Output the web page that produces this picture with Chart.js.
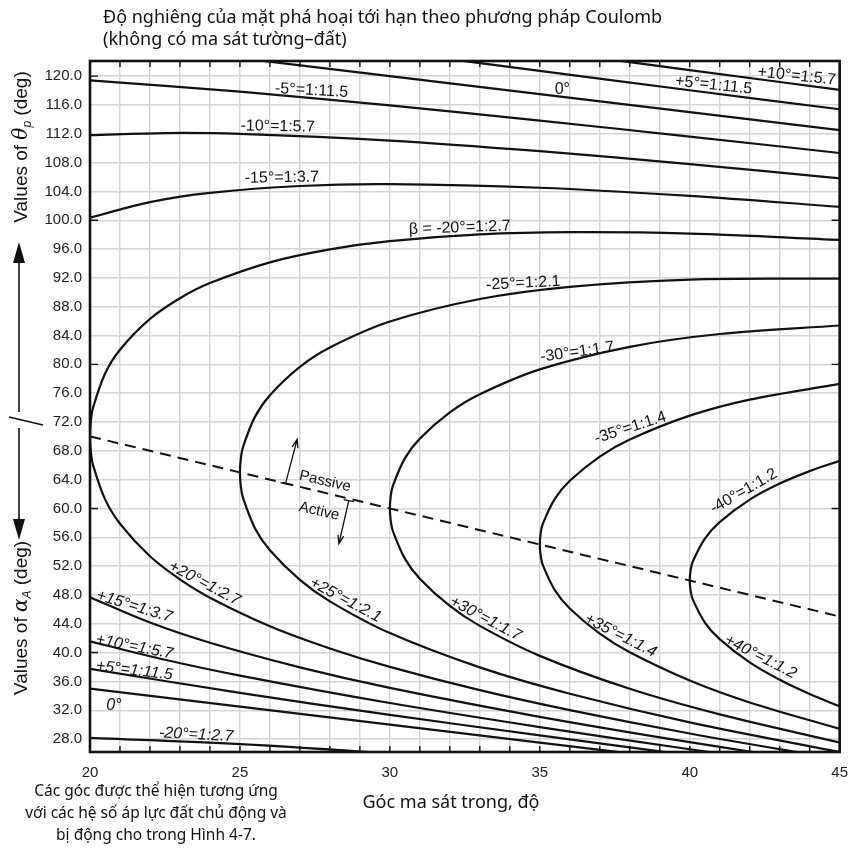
<!DOCTYPE html>
<html>
<head>
<meta charset="utf-8">
<script src="https://cdn.jsdelivr.net/npm/chart.js@4.4.0/dist/chart.umd.min.js"></script>
<style>
  html, body { margin: 0; padding: 0; background: #fff; }
</style>
</head>
<body>
<canvas id="coulombChart" width="860" height="848"></canvas>
<script>
// friction angle phi (deg) and failure-plane angles
// closed curves: upper branch = theta_p for beta = -k, lower branch = alpha_A for beta = +k
const phi20 = [20, 20.03, 20.1, 20.5, 21, 22, 23, 24, 26, 28, 30, 33, 36, 40, 45];
const thetaM20 = [70, 72.17, 73.95, 78.69, 82.03, 86.31, 89.18, 91.28, 94.16, 95.96, 97.10, 98.03, 98.34, 98.15, 97.28];
const alphaP20 = [70, 67.83, 66.05, 61.29, 57.88, 53.36, 50.15, 47.61, 43.65, 40.57, 38.01, 34.78, 32.01, 28.77, 25.17];

const phi25 = [25, 25.03, 25.1, 25.5, 26, 27, 28, 30, 33, 36, 40, 45];
const thetaM25 = [65, 66.92, 68.49, 72.71, 75.72, 79.65, 82.34, 85.94, 89.07, 90.76, 91.77, 91.90];
const alphaP25 = [65, 63.08, 61.51, 57.27, 54.21, 50.09, 47.11, 42.70, 37.94, 34.29, 30.32, 26.19];

const phi30 = [30, 30.03, 30.1, 30.5, 31, 32, 33, 35, 38, 41, 45];
const thetaM30 = [60, 61.73, 63.14, 66.95, 69.69, 73.32, 75.84, 79.30, 82.43, 84.21, 85.39];
const alphaP30 = [60, 58.28, 56.86, 53.04, 50.25, 46.47, 43.70, 39.54, 34.97, 31.42, 27.52];

const phi35 = [35, 35.03, 35.1, 35.5, 36, 37, 38, 40, 42, 45];
const thetaM35 = [55, 56.57, 57.86, 61.32, 63.84, 67.20, 69.57, 72.88, 75.11, 77.28];
const alphaP35 = [55, 53.43, 52.15, 48.66, 46.11, 42.62, 40.04, 36.12, 33.08, 29.41];

const phi40 = [40, 40.03, 40.1, 40.5, 41, 42, 43, 44, 45];
const thetaM40 = [50, 51.43, 52.61, 55.79, 58.10, 61.22, 63.45, 65.18, 66.60];
const alphaP40 = [50, 48.57, 47.39, 44.20, 41.86, 38.63, 36.22, 34.25, 32.54];

// open curves
const phi15 = [20, 22, 24, 27, 30, 35, 40, 45];
const thetaM15 = [100.35, 102.51, 103.79, 104.75, 105.0, 104.51, 103.38, 101.86];
const alphaP15 = [47.68, 44.16, 41.36, 37.95, 35.10, 31.08, 27.56, 24.34];

const phi10 = [20, 22.5, 25, 30, 35, 40, 45];
const thetaM10 = [111.81, 112.10, 111.99, 111.06, 109.58, 107.80, 105.82];
const alphaP10 = [41.56, 39.01, 36.81, 33.00, 29.66, 26.58, 23.65];

const phi5 = [20, 25, 30, 35, 40, 45];
const thetaM5 = [119.40, 117.84, 115.93, 113.83, 111.61, 109.33];
const alphaP5 = [37.75, 34.40, 31.36, 28.50, 25.74, 23.04];
const theta0 = [125, 122.5, 120, 117.5, 115, 112.5];
const alpha0 = [35, 32.5, 30, 27.5, 25, 22.5];
const thetaP5 = [129.39, 126.35, 123.48, 120.73, 118.04, 115.40];

const phiP10 = [35, 38, 40, 45];
const thetaP10 = [123.64, 121.95, 120.83, 118.10];

const phiM20 = [20, 25, 30, 35, 40];
const alphaM20 = [28.15, 27.29, 25.98, 24.40, 22.60];

// passive / active divide
const divideX = [20, 45];
const divideY = [70, 45];

const xGrid = [20, 21, 22, 23, 24, 25, 26, 27, 28, 29, 30, 31, 32, 33, 34, 35, 36, 37, 38, 39, 40, 41, 42, 43, 44, 45];
const yTicks = [28, 32, 36, 40, 44, 48, 52, 56, 60, 64, 68, 72, 76, 80, 84, 88, 92, 96, 100, 104, 108, 112, 116, 120];

const line = (phi, vals) => phi.map((p, i) => ({ x: p, y: vals[i] }));
// upper branch from the right end back to the nose, then lower branch out again
const loop = (phi, up, low) => line(phi, up).reverse().concat(line(phi, low).slice(1));

const curveStyle = { showLine: true, pointRadius: 0, borderColor: '#111', borderWidth: 2.2, tension: 0.35, fill: false };

const datasets = [
    { data: loop(phi20, thetaM20, alphaP20) },
    { data: loop(phi25, thetaM25, alphaP25) },
    { data: loop(phi30, thetaM30, alphaP30) },
    { data: loop(phi35, thetaM35, alphaP35) },
    { data: loop(phi40, thetaM40, alphaP40) },
    { data: line(phi15, thetaM15) },
    { data: line(phi15, alphaP15) },
    { data: line(phi10, thetaM10) },
    { data: line(phi10, alphaP10) },
    { data: line(phi5, thetaM5) },
    { data: line(phi5, alphaP5) },
    { data: line(phi5, theta0) },
    { data: line(phi5, alpha0) },
    { data: line(phi5, thetaP5) },
    { data: line(phiP10, thetaP10) },
    { data: line(phiM20, alphaM20) },
].map(d => Object.assign({}, curveStyle, d));

datasets.push(Object.assign({}, curveStyle, {
    data: line(divideX, divideY),
    borderWidth: 2,
    borderDash: [11, 7],
    tension: 0
}));

const SANS = '"Liberation Sans", Arial, sans-serif';
const VN = '"Noto Sans", "Open Sans", sans-serif';

// text, phi, angle, rotation, italic
const curveLabels = [
    ['+10°=1:5.7', 43.57, 120.0, 6, false],
    ['+5°=1:11.5', 40.8, 118.75, 6, false],
    ['0°', 35.75, 118.2, 0, false],
    ['-5°=1:11.5', 27.39, 118.0, 3, false],
    ['-10°=1:5.7', 26.26, 113.0, 1, false],
    ['-15°=1:3.7', 26.4, 105.9, -1, false],
    ['β = -20°=1:2.7', 32.33, 98.96, -2, false],
    ['-25°=1:2.1', 34.45, 91.25, -3, false],
    ['-30°=1:1.7', 36.25, 81.7, -8, false],
    ['-35°=1:1.4', 38.02, 71.2, -18, false],
    ['-40°=1:1.2', 41.8, 62.4, -30, false],
    ['+20°=1:2.7', 23.82, 49.6, 28, true],
    ['+25°=1:2.1', 28.52, 47.3, 28, true],
    ['+30°=1:1.7', 33.19, 44.7, 28, true],
    ['+35°=1:1.4', 37.69, 42.35, 27, true],
    ['+40°=1:1.2', 42.36, 39.4, 27, true],
    ['+15°=1:3.7', 21.48, 46.4, 17, true],
    ['+10°=1:5.7', 21.48, 40.8, 11, true],
    ['+5°=1:11.5', 21.48, 37.5, 7, true],
    ['0°', 20.8, 32.7, 0, true],
    ['-20°=1:2.7', 23.54, 28.6, 3, true],
];

function arrow(ctx, x1, y1, x2, y2) {
    const a = Math.atan2(y2 - y1, x2 - x1);
    ctx.beginPath();
    ctx.moveTo(x1, y1);
    ctx.lineTo(x2, y2);
    ctx.moveTo(x2 - 9 * Math.cos(a - 0.33), y2 - 9 * Math.sin(a - 0.33));
    ctx.lineTo(x2, y2);
    ctx.lineTo(x2 - 9 * Math.cos(a + 0.33), y2 - 9 * Math.sin(a + 0.33));
    ctx.stroke();
}

// rotated y title with an italic symbol and subscript
function sideTitle(ctx, cx, cy, sym, sub) {
    const parts = [
        ['Values of ', '19px ' + SANS, 0],
        [sym, 'italic 20px "DejaVu Serif", serif', 0],
        [sub, 'italic 12px ' + SANS, 4],
        [' (deg)', '19px ' + SANS, 0],
    ];
    ctx.save();
    ctx.translate(cx, cy);
    ctx.rotate(-Math.PI / 2);
    ctx.textAlign = 'left';
    ctx.textBaseline = 'alphabetic';
    let total = 0;
    parts.forEach(p => { ctx.font = p[1]; total += ctx.measureText(p[0]).width; });
    let x = -total / 2;
    parts.forEach(p => {
        ctx.font = p[1];
        ctx.fillText(p[0], x, 6 + p[2]);
        x += ctx.measureText(p[0]).width;
    });
    ctx.restore();
}

const figureDecor = {
    id: 'figureDecor',
    afterDatasetsDraw(chart) {
        const { ctx, chartArea: a, scales } = chart;
        const X = v => scales.x.getPixelForValue(v);
        const Y = v => scales.y.getPixelForValue(v);
        ctx.save();

        // frame and inward ticks
        ctx.strokeStyle = '#111';
        ctx.lineWidth = 2.6;
        ctx.strokeRect(a.left, a.top, a.right - a.left, a.bottom - a.top);
        ctx.lineWidth = 1.4;
        ctx.beginPath();
        for (let v = 21; v < 45; v++) {
            ctx.moveTo(X(v), a.top); ctx.lineTo(X(v), a.top + 6);
            ctx.moveTo(X(v), a.bottom); ctx.lineTo(X(v), a.bottom - 6);
        }
        [40, 60, 80, 100, 120].forEach(v => { ctx.moveTo(a.left, Y(v)); ctx.lineTo(a.left + 8, Y(v)); });
        [60, 80, 100].forEach(v => { ctx.moveTo(a.right, Y(v)); ctx.lineTo(a.right - 8, Y(v)); });
        ctx.stroke();

        // curve labels
        ctx.fillStyle = '#111';
        ctx.textAlign = 'center';
        ctx.textBaseline = 'middle';
        curveLabels.forEach(([t, lx, ly, rot, it]) => {
            ctx.save();
            ctx.translate(X(lx), Y(ly));
            ctx.rotate(rot * Math.PI / 180);
            ctx.font = (it ? 'italic ' : '') + '16px ' + SANS;
            ctx.fillText(t, 0, 0);
            ctx.restore();
        });

        // passive / active marks
        ctx.lineWidth = 1.3;
        arrow(ctx, X(26.52), Y(63.45), X(26.91), Y(69.6));
        arrow(ctx, X(28.63), Y(61.1), X(28.30), Y(55.1));
        ctx.beginPath();
        ctx.moveTo(X(26.52) - 5, Y(63.45) - 1); ctx.lineTo(X(26.52) + 5, Y(63.45) + 1);
        ctx.moveTo(X(28.63) - 5, Y(61.1) - 1); ctx.lineTo(X(28.63) + 5, Y(61.1) + 1);
        ctx.stroke();
        ['Passive', 'Active'].forEach((t, i) => {
            ctx.save();
            ctx.translate(X(i ? 27.64 : 27.84), Y(i ? 59.6 : 63.75));
            ctx.rotate(13 * Math.PI / 180);
            ctx.font = '15px ' + SANS;
            ctx.fillText(t, 0, 0);
            ctx.restore();
        });
        ctx.restore();
    },
    afterDraw(chart) {
        const { ctx } = chart;
        ctx.save();
        ctx.fillStyle = '#111';
        ctx.strokeStyle = '#111';

        // titles
        ctx.textAlign = 'left';
        ctx.textBaseline = 'middle';
        ctx.font = '18px ' + VN;
        ctx.fillText('Độ nghiêng của mặt phá hoại tới hạn theo phương pháp Coulomb', 103, 18);
        ctx.fillText('(không có ma sát tường–đất)', 103, 40);

        ctx.textAlign = 'center';
        ctx.font = '18px ' + VN;
        ctx.fillText('Góc ma sát trong, độ', 451, 803);
        ctx.font = '15.5px ' + VN;
        ctx.fillText('Các góc được thể hiện tương ứng', 156, 792);
        ctx.fillText('với các hệ số áp lực đất chủ động và', 156, 814);
        ctx.fillText('bị động cho trong Hình 4-7.', 156, 836);

        // side titles and arrows
        sideTitle(ctx, 21, 147, 'θ', 'p');
        sideTitle(ctx, 21, 618, 'α', 'A');
        ctx.lineWidth = 1.6;
        ctx.beginPath();
        ctx.moveTo(19, 412); ctx.lineTo(19, 258);
        ctx.moveTo(19, 428); ctx.lineTo(19, 522);
        ctx.moveTo(9, 417); ctx.lineTo(43, 425);
        ctx.stroke();
        ctx.beginPath();
        ctx.moveTo(19, 242); ctx.lineTo(13, 263); ctx.lineTo(25, 263); ctx.closePath();
        ctx.moveTo(19, 540); ctx.lineTo(13, 519); ctx.lineTo(25, 519); ctx.closePath();
        ctx.fill();
        ctx.restore();
    }
};

new Chart(document.getElementById('coulombChart'), {
    type: 'scatter',
    data: { datasets },
    options: {
        responsive: false,
        animation: false,
        elements: { line: { capBezierPoints: false } },
        layout: { padding: { top: 61, right: 17, left: 0, bottom: 0 } },
        plugins: { legend: { display: false }, tooltip: { enabled: false } },
        scales: {
            x: {
                type: 'linear',
                min: 20,
                max: 45,
                afterBuildTicks: s => { s.ticks = xGrid.map(v => ({ value: v })); },
                afterFit: s => { s.height = 96; },
                border: { display: false },
                grid: { color: '#d4d4d4', lineWidth: 1.4, drawTicks: false },
                ticks: {
                    padding: 12,
                    color: '#222',
                    autoSkip: false,
                    maxRotation: 0,
                    font: { family: SANS, size: 15 },
                    callback: v => (v % 5 === 0 ? String(v) : '')
                }
            },
            y: {
                type: 'linear',
                min: 26.2,
                max: 122.1,
                afterBuildTicks: s => { s.ticks = yTicks.map(v => ({ value: v })); },
                afterFit: s => { s.width = 90; },
                border: { display: false },
                grid: { color: '#d4d4d4', lineWidth: 1.4, drawTicks: false },
                ticks: {
                    padding: 8,
                    color: '#222',
                    autoSkip: false,
                    font: { family: SANS, size: 15 },
                    callback: v => v.toFixed(1)
                }
            }
        }
    },
    plugins: [figureDecor]
});
</script>
</body>
</html>
